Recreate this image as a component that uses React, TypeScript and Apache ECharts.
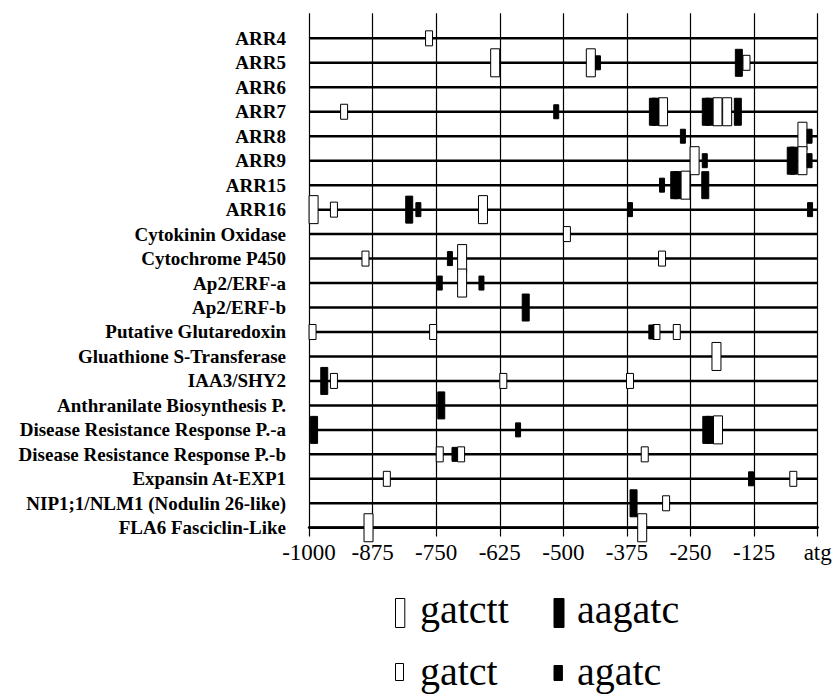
import React, { useEffect, useRef } from "react";
import * as echarts from "echarts";

const genes = [
  "ARR4",
  "ARR5",
  "ARR6",
  "ARR7",
  "ARR8",
  "ARR9",
  "ARR15",
  "ARR16",
  "Cytokinin Oxidase",
  "Cytochrome P450",
  "Ap2/ERF-a",
  "Ap2/ERF-b",
  "Putative Glutaredoxin",
  "Gluathione S-Transferase",
  "IAA3/SHY2",
  "Anthranilate Biosynthesis P.",
  "Disease Resistance Response P.-a",
  "Disease Resistance Response P.-b",
  "Expansin At-EXP1",
  "NIP1;1/NLM1 (Nodulin 26-like)",
  "FLA6 Fasciclin-Like",
];

const xTicks = [-1000, -875, -750, -625, -500, -375, -250, -125, 0];

// motif positions: [gene, position relative to atg]
const gatctt: [string, number][] = [
  ["ARR5", -634], ["ARR5", -446],
  ["ARR7", -304], ["ARR7", -197], ["ARR7", -178],
  ["ARR8", -30],
  ["ARR9", -242], ["ARR9", -30],
  ["ARR15", -260],
  ["ARR16", -991], ["ARR16", -658],
  ["Cytochrome P450", -699],
  ["Ap2/ERF-a", -699],
  ["Gluathione S-Transferase", -199],
  ["Disease Resistance Response P.-a", -196],
  ["FLA6 Fasciclin-Like", -883], ["FLA6 Fasciclin-Like", -345],
];

const gatct: [string, number][] = [
  ["ARR4", -764],
  ["ARR5", -140],
  ["ARR7", -931],
  ["ARR16", -951],
  ["Cytokinin Oxidase", -493],
  ["Cytochrome P450", -889], ["Cytochrome P450", -306],
  ["Putative Glutaredoxin", -993], ["Putative Glutaredoxin", -756],
  ["Putative Glutaredoxin", -317], ["Putative Glutaredoxin", -277],
  ["IAA3/SHY2", -951], ["IAA3/SHY2", -618], ["IAA3/SHY2", -369],
  ["Disease Resistance Response P.-b", -743],
  ["Disease Resistance Response P.-b", -701],
  ["Disease Resistance Response P.-b", -340],
  ["Expansin At-EXP1", -847], ["Expansin At-EXP1", -48],
  ["NIP1;1/NLM1 (Nodulin 26-like)", -298],
];

const aagatc: [string, number][] = [
  ["ARR5", -155],
  ["ARR7", -324], ["ARR7", -319], ["ARR7", -220], ["ARR7", -213], ["ARR7", -157],
  ["ARR9", -53], ["ARR9", -47],
  ["ARR15", -282], ["ARR15", -276], ["ARR15", -221],
  ["ARR16", -803],
  ["Ap2/ERF-b", -574],
  ["IAA3/SHY2", -970],
  ["Anthranilate Biosynthesis P.", -740],
  ["Disease Resistance Response P.-a", -990],
  ["Disease Resistance Response P.-a", -219],
  ["Disease Resistance Response P.-a", -212],
  ["NIP1;1/NLM1 (Nodulin 26-like)", -362],
];

const agatc: [string, number][] = [
  ["ARR5", -432],
  ["ARR7", -514],
  ["ARR8", -265], ["ARR8", -16],
  ["ARR9", -222], ["ARR9", -16],
  ["ARR15", -306],
  ["ARR16", -785], ["ARR16", -369], ["ARR16", -15],
  ["Cytochrome P450", -723],
  ["Ap2/ERF-a", -743], ["Ap2/ERF-a", -661],
  ["Putative Glutaredoxin", -327],
  ["Disease Resistance Response P.-a", -589],
  ["Disease Resistance Response P.-b", -714],
  ["Expansin At-EXP1", -131],
];

const SERIF = "Liberation Serif";

function boxSeries(name: string, list: [string, number][], w: number, h: number, fill: string, z: number) {
  return {
    name,
    type: "custom",
    xAxisIndex: 1,
    yAxisIndex: 1,
    z,
    encode: { x: 0, y: 1 },
    data: list.map(([g, p]) => [p, genes.indexOf(g)]),
    renderItem: (_params: any, api: any) => {
      const c = api.coord([api.value(0), api.value(1)]);
      return {
        type: "rect",
        shape: { x: c[0] - w / 2, y: c[1] - h / 2, width: w, height: h },
        style: { fill, stroke: "#000", lineWidth: 1 },
      };
    },
  };
}

function legendText(text: string, x: number, y: number) {
  return {
    type: "text",
    x,
    y,
    style: {
      text,
      fontFamily: SERIF,
      fontSize: 40,
      fill: "#000",
      verticalAlign: "middle",
      align: "left",
    },
  };
}

export default function App() {
  const ref = useRef<HTMLDivElement>(null);
  useEffect(() => {
    if (!ref.current) return;
    const chart = echarts.init(ref.current, null, { renderer: "svg" });
    const option: any = {
      animation: false,
      backgroundColor: "#fff",
      grid: [
        { left: 309, right: 18.3, top: 13.3, bottom: 171.5 },
        { left: 309, right: 18.3, top: 26.1, bottom: 159 },
      ],
      xAxis: [
        {
          type: "value",
          gridIndex: 0,
          min: -1000,
          max: 0,
          interval: 125,
          axisLine: { show: true, lineStyle: { color: "#000", width: 2.5 } },
          axisTick: { show: true, inside: false, length: 9, lineStyle: { color: "#000", width: 1.2 } },
          splitLine: { show: true, lineStyle: { color: "#000", width: 1.2 } },
          axisLabel: {
            margin: 13,
            fontFamily: SERIF,
            fontSize: 23,
            color: "#000",
            showMinLabel: true,
            showMaxLabel: true,
            formatter: (v: number) => (v === 0 ? "atg" : String(v)),
          },
        },
        {
          type: "value",
          gridIndex: 1,
          min: -1000,
          max: 0,
          show: false,
        },
      ],
      yAxis: [
        { type: "value", gridIndex: 0, show: false, min: 0, max: 1 },
        {
          type: "category",
          gridIndex: 1,
          inverse: true,
          data: genes,
          axisLine: { show: false },
          axisTick: { show: false },
          splitLine: { show: false },
          axisLabel: {
            margin: 23,
            fontFamily: SERIF,
            fontWeight: "bold",
            fontSize: 19,
            color: "#000",
            interval: 0,
          },
        },
      ],
      series: [
        {
          name: "rows",
          type: "custom",
          xAxisIndex: 1,
          yAxisIndex: 1,
          z: 2,
          encode: { x: [0, 2], y: 1 },
          data: genes.map((_g, i) => [xTicks[0], i, xTicks[xTicks.length - 1]]),
          renderItem: (_params: any, api: any) => {
            const a = api.coord([api.value(0), api.value(1)]);
            const b = api.coord([api.value(2), api.value(1)]);
            return {
              type: "line",
              shape: { x1: a[0], y1: a[1], x2: b[0], y2: b[1] },
              style: { stroke: "#000", lineWidth: 2.5 },
            };
          },
        },
        boxSeries("gatctt", gatctt, 9, 28, "#fff", 3),
        boxSeries("gatct", gatct, 7, 15, "#fff", 4),
        boxSeries("aagatc", aagatc, 7, 27, "#000", 5),
        boxSeries("agatc", agatc, 5, 14, "#000", 6),
      ],
      graphic: [
        { type: "rect", left: 395, top: 598, shape: { x: 0, y: 0, width: 9.3, height: 29 }, style: { fill: "#fff", stroke: "#000", lineWidth: 1 } },
        legendText("gatctt", 420, 609.5),
        { type: "rect", left: 553.5, top: 598, shape: { x: 0, y: 0, width: 10, height: 29 }, style: { fill: "#000", stroke: "#000", lineWidth: 1 } },
        legendText("aagatc", 577, 609.5),
        { type: "rect", left: 395, top: 663, shape: { x: 0, y: 0, width: 8, height: 17 }, style: { fill: "#fff", stroke: "#000", lineWidth: 1 } },
        legendText("gatct", 420, 671.5),
        { type: "rect", left: 553.5, top: 665, shape: { x: 0, y: 0, width: 8.4, height: 15 }, style: { fill: "#000", stroke: "#000", lineWidth: 1 } },
        legendText("agatc", 577, 671.5),
      ],
    };
    chart.setOption(option);
    return () => chart.dispose();
  }, []);
  return (
    <div
      ref={ref}
      style={{ position: "fixed", left: 0, top: 0, width: 836, height: 699, background: "#fff" }}
    />
  );
}
